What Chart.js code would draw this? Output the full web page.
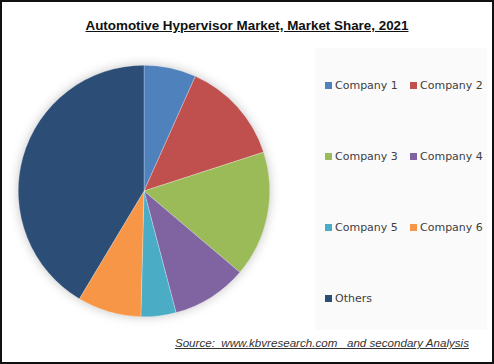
<!DOCTYPE html>
<html>
<head>
<meta charset="utf-8">
<script src="https://cdn.jsdelivr.net/npm/chart.js@4.4.1/dist/chart.umd.min.js"></script>
<style>
  html, body { margin: 0; padding: 0; background: #fff; }
  .frame { position: relative; width: 494px; height: 364px; box-sizing: border-box; border: 2px solid #111; overflow: hidden; }
  .title { position: absolute; left: 0; right: 0; top: 16px; text-align: center; font: bold 13.4px 'Liberation Sans', sans-serif; text-decoration: underline; color: #111; }
  .pie-box { position: absolute; left: 6px; top: 53px; width: 272px; height: 272px; }
  .legend { position: absolute; left: 313px; top: 46px; width: 172px; height: 282px; background: #fafafa; }
  .item { position: absolute; font: 11px 'DejaVu Sans', sans-serif; color: #404040; white-space: nowrap; line-height: 14px; }
  .item i { display: inline-block; width: 7px; height: 7px; margin-right: 3px; vertical-align: 0; }
  .source { position: absolute; right: 23px; top: 334px; font: italic 11.6px 'Liberation Sans', sans-serif; text-decoration: underline; color: #333; white-space: pre; }
</style>
</head>
<body>
<div class="frame">
  <div class="title">Automotive Hypervisor Market, Market Share, 2021</div>
  <div class="pie-box"><canvas id="pie" width="272" height="272"></canvas></div>
  <div class="legend" id="legend"></div>
  <div class="source">Source:  www.kbvresearch.com   and secondary Analysis</div>
</div>
<script>
const labels = ['Company 1', 'Company 2', 'Company 3', 'Company 4', 'Company 5', 'Company 6', 'Others'];
const shares = [6.7, 13.3, 16.2, 9.7, 4.5, 8.2, 41.4];
const colors = ['#4F81BD', '#C0504D', '#9BBB59', '#8064A2', '#4BACC6', '#F79646', '#2C4D75'];

// soft shadow under the pie, like the office chart
const pieShadow = {
  id: 'pieShadow',
  beforeDatasetsDraw(chart) {
    const arc = chart.getDatasetMeta(0).data[0];
    if (!arc) return;
    const { ctx } = chart;
    ctx.save();
    ctx.shadowColor = 'rgba(0,0,0,0.28)';
    ctx.shadowBlur = 12;
    ctx.fillStyle = '#fff';
    ctx.beginPath();
    ctx.arc(arc.x, arc.y, arc.outerRadius - 1, 0, Math.PI * 2);
    ctx.fill();
    ctx.restore();
  },
};

new Chart(document.getElementById('pie'), {
  type: 'pie',
  data: {
    labels,
    datasets: [{
      data: shares,
      backgroundColor: colors,
      borderColor: 'rgba(255,255,255,0.5)',
      borderWidth: 0.5,
    }],
  },
  options: {
    responsive: false,
    animation: false,
    layout: { padding: 10 },
    plugins: { legend: { display: false }, tooltip: { enabled: false } },
  },
  plugins: [pieShadow],
});

const legendEl = document.getElementById('legend');
legendEl.innerHTML = labels.map((l, i) => {
  const left = i % 2 ? 95 : 10;
  const top = 31 + Math.floor(i / 2) * 71;
  return `<div class="item" style="left:${left}px;top:${top}px"><i style="background:${colors[i]}"></i>${l}</div>`;
}).join('');
</script>
</body>
</html>
